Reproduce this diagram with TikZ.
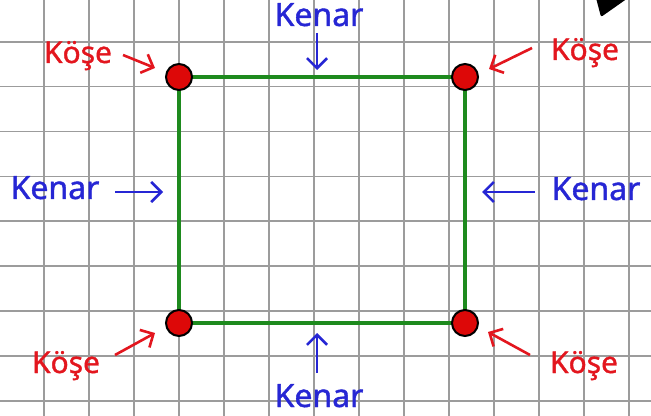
\documentclass[tikz,border=0pt]{standalone}
\usepackage{fontspec}
\setmainfont{Noto Sans}[FakeBold=1.2]
\usetikzlibrary{arrows.meta}
\definecolor{Grid}{HTML}{9C9C9C}
\definecolor{Edge}{HTML}{1E8A1E}
\definecolor{Vertex}{HTML}{DD0808}
\definecolor{Blue}{HTML}{2626D4}
\definecolor{Red}{HTML}{E3161E}

\begin{document}
\begin{tikzpicture}[
  x=0.5pt,y=-0.5pt,
  vertex/.style={circle,draw=black,line width=1pt,fill=Vertex,minimum size=13pt,inner sep=0pt},
  edgelabel/.style={text=Blue,font=\fontsize{16}{18}\selectfont,inner sep=0pt,anchor=base},
  cornerlabel/.style={text=Red,font=\fontsize{15}{18}\selectfont,inner sep=0pt,anchor=base},
  edgearrow/.style={-{Straight Barb[length=5pt,width=10pt]},line width=1.3pt,draw=Blue},
  cornerarrow/.style={-{Straight Barb[length=5pt,width=10pt]},line width=1.3pt,draw=Red},
  side/.style={draw=Edge,line width=2pt}
]
\useasboundingbox (0,0) rectangle (651,416);
\fill[white] (0,0) rectangle (651,416);
% grid
\foreach \i in {1,...,14}
  \draw[Grid,line width=0.85pt] ({45*\i-0.7},0) -- ({45*\i-0.7},416);
\foreach \j in {0,...,8}
  \draw[Grid,line width=0.85pt] (0,{41.7+44.9*\j}) -- (651,{41.7+44.9*\j});
\fill[black,rounded corners=1pt] (596,-2) -- (628,-2) -- (601,17) -- cycle;
% corners and sides
\coordinate (tl) at (179,77);
\coordinate (tr) at (465,77);
\coordinate (br) at (465,323);
\coordinate (bl) at (179,323);
\draw[side] (tl) -- (tr) -- (br) -- (bl) -- cycle;
\node[vertex] (vtl) at (tl) {};
\node[vertex] (vtr) at (tr) {};
\node[vertex] (vbr) at (br) {};
\node[vertex] (vbl) at (bl) {};
% edge labels
\node[edgelabel] (etop) at (319,26) {\bfseries Kenar};
\node[edgelabel] (ebot) at (319,407) {\bfseries Kenar};
\node[edgelabel] (eleft) at (55,199) {\bfseries Kenar};
\node[edgelabel] (eright) at (596,200) {\bfseries Kenar};
\coordinate (etop0) at (317,33);   \coordinate (etop1) at (317,70);
\coordinate (ebot0) at (317,373);  \coordinate (ebot1) at (317,333);
\coordinate (eleft0) at (115,192); \coordinate (eleft1) at (163,192);
\coordinate (eright0) at (535,192);\coordinate (eright1) at (482,192);
\draw[edgearrow] (etop0) -- (etop1);
\draw[edgearrow] (ebot0) -- (ebot1);
\draw[edgearrow] (eleft0) -- (eleft1);
\draw[edgearrow] (eright0) -- (eright1);
% corner labels
\node[cornerlabel] (ktl) at (78,63) {\bfseries Köşe};
\node[cornerlabel] (ktr) at (585,60) {\bfseries Köşe};
\node[cornerlabel] (kbl) at (66,373) {\bfseries Köşe};
\node[cornerlabel] (kbr) at (584,373) {\bfseries Köşe};
\coordinate (ktl0) at (123,55); \coordinate (ktl1) at (155,68);
\coordinate (ktr0) at (532,48); \coordinate (ktr1) at (489,69);
\coordinate (kbl0) at (115,355);\coordinate (kbl1) at (155,333);
\coordinate (kbr0) at (530,355);\coordinate (kbr1) at (488,332);
\draw[cornerarrow] (ktl0) -- (ktl1);
\draw[cornerarrow] (ktr0) -- (ktr1);
\draw[cornerarrow] (kbl0) -- (kbl1);
\draw[cornerarrow] (kbr0) -- (kbr1);
\end{tikzpicture}
\end{document}
